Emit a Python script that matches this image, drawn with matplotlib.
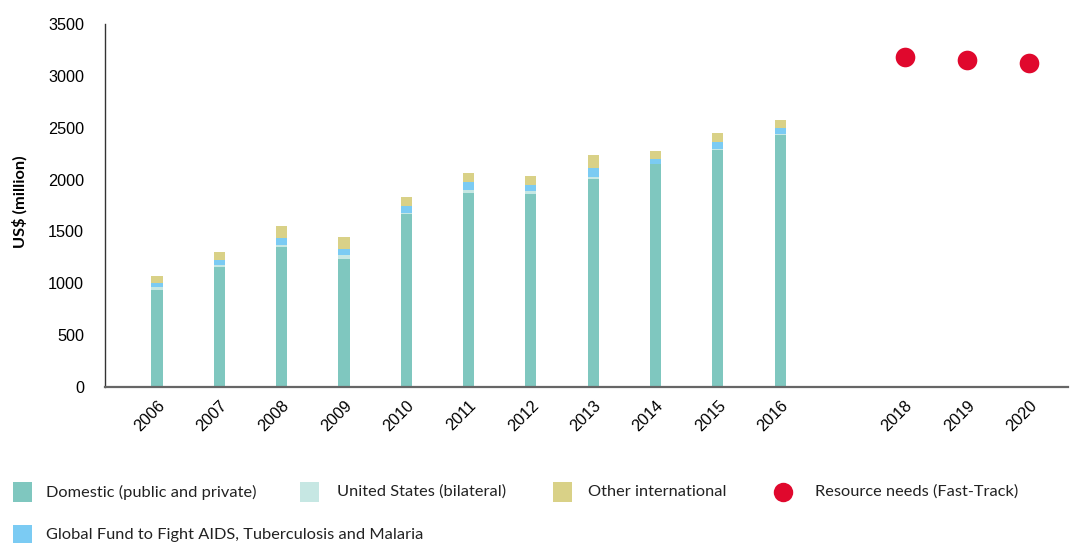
import matplotlib.pyplot as plt
import numpy as np
from matplotlib.patches import Rectangle
from matplotlib.lines import Line2D

years = ['2006', '2007', '2008', '2009', '2010', '2011', '2012', '2013', '2014', '2015', '2016']
domestic = [935, 1157, 1350, 1234, 1668, 1870, 1861, 2005, 2150, 2285, 2429]
united_states = [29, 22, 19, 38, 10, 29, 28, 19, 4, 10, 10]
global_fund = [39, 48, 67, 58, 68, 80, 58, 87, 41, 68, 58]
other_intl = [67, 74, 116, 116, 87, 84, 87, 125, 84, 87, 77]

need_years = ['2018', '2019', '2020']
resource_needs = [3180, 3152, 3123]

c_dom = '#7fc7bf'
c_us = '#c6e7e3'
c_gf = '#7bcbf3'
c_oth = '#d9d187'
c_red = '#e0082d'

x = np.arange(len(years))
xn = np.arange(len(need_years)) + len(years) + 1
width = 0.18

fig = plt.figure(figsize=(10.7, 5.43), dpi=100)
ax = fig.add_axes([105 / 1070, 1 - 387 / 543, (1068 - 105) / 1070, (387 - 24) / 543])

b1 = np.array(domestic)
b2 = b1 + np.array(united_states)
b3 = b2 + np.array(global_fund)
ax.bar(x, domestic, width, color=c_dom, zorder=2)
ax.bar(x, united_states, width, bottom=b1, color=c_us, zorder=2)
ax.bar(x, global_fund, width, bottom=b2, color=c_gf, zorder=2)
ax.bar(x, other_intl, width, bottom=b3, color=c_oth, zorder=2)
ax.scatter(xn, resource_needs, s=200, color=c_red, zorder=3, linewidths=0)

ax.set_xlim(-0.835, 14.62)
ax.set_ylim(0, 3500)
ax.set_yticks(np.arange(0, 3501, 500))
ax.set_xticks(np.concatenate([x, xn]))
ax.set_xticklabels(years + need_years, rotation=45, ha='right', rotation_mode='anchor',
                   family='Liberation Sans', fontsize=11.7)
for lab in ax.get_yticklabels():
    lab.set_family('Liberation Sans')
    lab.set_fontsize(11.7)
ax.tick_params(axis='both', length=0)
ax.tick_params(axis='y', pad=15)
ax.tick_params(axis='x', pad=8)
ax.spines['top'].set_visible(False)
ax.spines['right'].set_visible(False)
ax.spines['left'].set_color('#333333')
ax.spines['left'].set_linewidth(1.0)
ax.spines['bottom'].set_color('#666666')
ax.spines['bottom'].set_linewidth(1.6)
ax.set_ylabel('US$ (million)', family='Lato', fontweight='bold', fontsize=11.8)
ax.yaxis.set_label_coords(-0.08, 0.51)

# legend drawn by hand in figure pixels
def px(xp, yp):
    return xp / 1070, 1 - yp / 543

entries = [
    (13, 492, c_dom, 'Domestic (public and private)', 46),
    (300, 492, c_us, 'United States (bilateral)', 337),
    (553, 492, c_oth, 'Other international', 588),
    (13, 535, c_gf, 'Global Fund to Fight AIDS, Tuberculosis and Malaria', 46),
]
for xp, yp, col, label, tx in entries:
    fx, fy = px(xp, yp + 10)
    fig.add_artist(Rectangle((fx, fy), 19 / 1070, 20 / 543, transform=fig.transFigure,
                             color=col, linewidth=0))
    tfx, tfy = px(tx, yp)
    fig.text(tfx, tfy, label, family='Lato', fontsize=11.8, va='center', color='#222222')

cx, cy = px(783, 492)
fig.add_artist(Line2D([cx], [cy], marker='o', markersize=14, color=c_red,
                      markeredgewidth=0, transform=fig.transFigure))
tfx, tfy = px(815, 492)
fig.text(tfx, tfy, 'Resource needs (Fast-Track)', family='Lato', fontsize=11.8, va='center',
         color='#222222')

fig.savefig('out.png', dpi=100)
